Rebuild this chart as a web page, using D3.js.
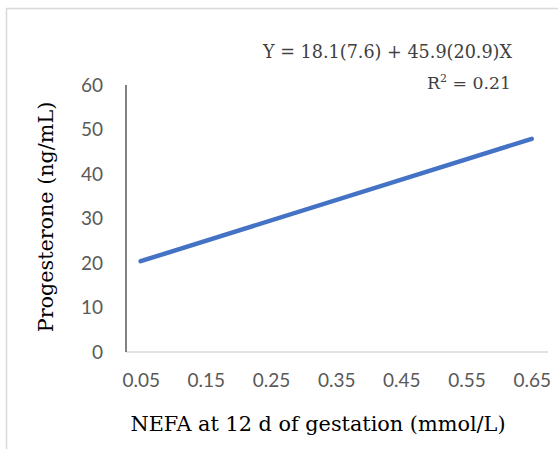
<!DOCTYPE html>
<html>
<head>
<meta charset="utf-8">
<script src="https://cdn.jsdelivr.net/npm/d3@7"></script>
<style>
  body { margin: 0; background: #fff; }
  svg { display: block; }
</style>
</head>
<body>
<div id="chart"></div>
<script>
// data
var xTicks = [0.05, 0.15, 0.25, 0.35, 0.45, 0.55, 0.65];
var yTicks = [0, 10, 20, 30, 40, 50, 60];
var fitX = [0.05, 0.65];
var fitY = [20.4, 47.9];
var eqText = "Y = 18.1(7.6) + 45.9(20.9)X";
var xTitle = "NEFA at 12 d of gestation (mmol/L)";
var yTitle = "Progesterone (ng/mL)";

var w = 558, h = 449;
var padL = 126, padR = 548, padT = 85, padB = 352;
var serif = "'DejaVu Serif', serif";
var sans = "Lato, 'Open Sans', sans-serif";

var svg = d3.select("#chart").append("svg")
  .attr("width", w).attr("height", h);

// outer frame
svg.append("rect")
  .attr("x", 6.5).attr("y", 8.5)
  .attr("width", w).attr("height", h)
  .attr("fill", "none").attr("stroke", "#d9d9d9").attr("stroke-width", 1.5);

var scaleX = d3.scaleLinear().domain([0.0275, 0.675]).range([padL, padR]);
var scaleY = d3.scaleLinear().domain([0, 60]).range([padB, padT]);

// x axis
var xAxis = svg.append("g")
  .attr("transform", "translate(0," + padB + ")")
  .call(d3.axisBottom(scaleX).tickValues(xTicks).tickSize(0).tickPadding(22)
    .tickFormat(d3.format(".2f")));
xAxis.select(".domain").attr("stroke", "#d9d9d9").attr("stroke-width", 1.5)
  .attr("d", "M" + padL + ",0H" + padR);
xAxis.selectAll("text").attr("font-family", sans)
  .attr("font-size", 19).attr("fill", "#595959");

// y axis
var yAxis = svg.append("g")
  .attr("transform", "translate(" + padL + ",0)")
  .call(d3.axisLeft(scaleY).tickValues(yTicks).tickSize(0).tickPadding(23));
yAxis.select(".domain").attr("stroke", "#595959").attr("stroke-width", 1.5)
  .attr("d", "M0," + padT + "V" + padB);
yAxis.selectAll("text").attr("font-family", sans)
  .attr("font-size", 19).attr("fill", "#595959");

// fitted line
var line = d3.line().x(d => scaleX(d[0])).y(d => scaleY(d[1]));
svg.append("path")
  .datum(fitX.map((x, i) => [x, fitY[i]]))
  .attr("d", line)
  .attr("fill", "none").attr("stroke", "#4472c4")
  .attr("stroke-width", 4.5).attr("stroke-linecap", "round");

// titles
svg.append("text")
  .attr("x", 318).attr("y", 431)
  .attr("text-anchor", "middle")
  .attr("font-family", serif).attr("font-size", 20.8)
  .attr("fill", "#000")
  .text(xTitle);

svg.append("text")
  .attr("transform", "translate(53,217) rotate(-90)")
  .attr("text-anchor", "middle")
  .attr("font-family", serif).attr("font-size", 20.7)
  .attr("fill", "#000")
  .text(yTitle);

// equation
svg.append("text")
  .attr("x", 512).attr("y", 58)
  .attr("text-anchor", "end")
  .attr("font-family", serif).attr("font-size", 17.6)
  .attr("fill", "#404040")
  .text(eqText);

var r2 = svg.append("text")
  .attr("x", 511).attr("y", 89)
  .attr("text-anchor", "end")
  .attr("font-family", serif).attr("font-size", 17.3)
  .attr("fill", "#404040");
r2.append("tspan").text("R");
r2.append("tspan").attr("dy", -7).attr("font-size", 11).text("2");
r2.append("tspan").attr("dy", 7).text(" = 0.21");
</script>
</body>
</html>
